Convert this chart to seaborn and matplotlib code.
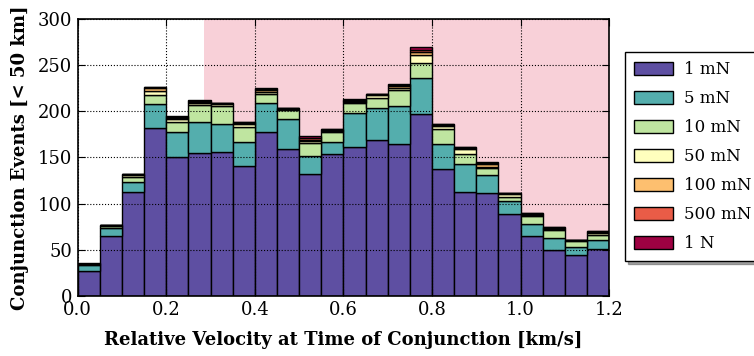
import numpy as np
import pandas as pd
import matplotlib
matplotlib.use("Agg")
import matplotlib.pyplot as plt
from matplotlib.patches import Patch
import seaborn as sns

# Histogram bins of the relative velocity [km/s]
bin_width = 0.05
bin_range = (0.0, 1.2)
bin_centers = np.round(np.arange(0.025, 1.2, bin_width), 3)

thrust_labels = ["1 mN", "5 mN", "10 mN", "50 mN", "100 mN", "500 mN", "1 N"]

# Conjunction counts per velocity bin for each thrust level
counts_1mN = [27, 65, 112, 182, 150, 155, 156, 141, 178, 159, 132, 154,
              161, 169, 165, 197, 137, 113, 111, 89, 65, 50, 44, 51]
counts_5mN = [6, 9, 11, 26, 27, 33, 30, 26, 31, 32, 19, 13,
              37, 34, 41, 39, 28, 30, 20, 14, 13, 13, 9, 10]
counts_10mN = [1, 2, 6, 10, 11, 19, 20, 16, 10, 10, 15, 11,
               11, 11, 17, 16, 16, 11, 8, 4, 8, 8, 6, 5]
counts_50mN = [1, 1, 2, 4, 3, 2, 2, 3, 2, 1, 2, 1,
               1, 4, 2, 9, 3, 5, 1, 3, 2, 1, 1, 2]
counts_100mN = [0, 0, 1, 3, 2, 1, 1, 1, 2, 1, 1, 1,
                1, 1, 2, 3, 1, 1, 3, 1, 1, 2, 0, 1]
counts_500mN = [0, 0, 0, 1, 1, 1, 0, 1, 1, 0, 2, 1,
                1, 0, 1, 2, 1, 1, 1, 0, 1, 1, 0, 1]
counts_1N = [1, 0, 0, 0, 1, 1, 0, 0, 1, 0, 2, 0,
             1, 0, 1, 3, 0, 0, 1, 0, 0, 0, 0, 0]

all_counts = [counts_1mN, counts_5mN, counts_10mN, counts_50mN,
              counts_100mN, counts_500mN, counts_1N]

# Velocity range highlighted in the background
span_start, span_end = 0.285, 1.2

rows = []
for label, cnts in zip(thrust_labels, all_counts):
    for c, n in zip(bin_centers, cnts):
        rows.append({"velocity": float(c), "count": float(n), "thrust": label})
df = pd.DataFrame(rows)

cmap = plt.get_cmap("Spectral")
colors = [cmap(v) for v in np.linspace(1, 0, len(thrust_labels))]
palette = dict(zip(thrust_labels, colors))

plt.rcParams.update({
    "font.family": "DejaVu Serif",
    "xtick.direction": "in",
    "ytick.direction": "in",
    "xtick.top": True,
    "ytick.right": True,
    "axes.axisbelow": False,
})

fig = plt.figure(figsize=(7.54, 3.56), dpi=100)
ax = fig.add_axes([0.103, 0.169, 0.705, 0.778])

ax.axvspan(span_start, span_end, color="crimson", alpha=0.2, lw=0, zorder=0)

# seaborn stacks the last hue level at the bottom
sns.histplot(data=df, x="velocity", weights="count", hue="thrust",
             hue_order=thrust_labels[::-1], palette=palette,
             binwidth=bin_width, binrange=bin_range,
             multiple="stack", element="bars",
             edgecolor="black", linewidth=1.0, alpha=1.0,
             legend=False, ax=ax, zorder=2)

ax.set_xlim(0, 1.2)
ax.set_ylim(0, 300)
ax.set_xticks(np.arange(0, 1.21, 0.2))
ax.set_xticklabels([f"{v:.1f}" for v in np.arange(0, 1.21, 0.2)])
ax.set_yticks(np.arange(0, 301, 50))
ax.tick_params(labelsize=13, length=5, width=0.8, pad=4)
ax.grid(True, linestyle=":", color="black", linewidth=0.8, zorder=3)
for s in ax.spines.values():
    s.set_linewidth(1.2)
    s.set_zorder(4)

ax.set_xlabel("Relative Velocity at Time of Conjunction [km/s]",
              fontsize=13, fontweight="bold", labelpad=8)
ax.set_ylabel("Conjunction Events [< 50 km]",
              fontsize=13, fontweight="bold", labelpad=6)

handles = [Patch(facecolor=palette[l], edgecolor="black", linewidth=1.0)
           for l in thrust_labels]
leg = ax.legend(handles, thrust_labels, loc="upper left",
                bbox_to_anchor=(1.03, 0.88), fontsize=12,
                frameon=True, fancybox=False, shadow=True,
                handlelength=2.3, handleheight=0.8,
                labelspacing=0.72, borderpad=0.55, handletextpad=0.7,
                borderaxespad=0)
leg.get_frame().set_edgecolor("black")
leg.get_frame().set_linewidth(1.0)

fig.savefig("out.png", dpi=100)
